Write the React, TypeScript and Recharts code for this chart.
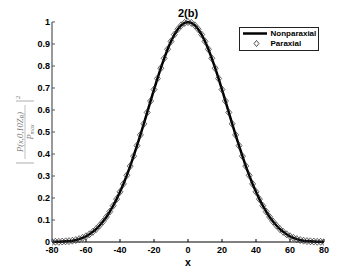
import React from 'react';
import { LineChart, Line, XAxis, YAxis, Legend, Label } from 'recharts';

const xValues = [
  -80, -78, -76, -74, -72, -70, -68, -66, -64, -62, -60, -58, -56, -54, -52, -50, -48, -46, -44, -42,
  -40, -38, -36, -34, -32, -30, -28, -26, -24, -22, -20, -18, -16, -14, -12, -10, -8, -6, -4, -2,
  0,
  2, 4, 6, 8, 10, 12, 14, 16, 18, 20, 22, 24, 26, 28, 30, 32, 34, 36, 38, 40,
  42, 44, 46, 48, 50, 52, 54, 56, 58, 60, 62, 64, 66, 68, 70, 72, 74, 76, 78, 80,
];

const nonparaxial = [
  0.0, 0.001, 0.001, 0.002, 0.003, 0.004, 0.006, 0.009, 0.013, 0.019, 0.026, 0.035, 0.046, 0.059, 0.075, 0.093, 0.114, 0.138, 0.165, 0.195,
  0.228, 0.264, 0.303, 0.345, 0.39, 0.438, 0.487, 0.537, 0.589, 0.641, 0.693, 0.743, 0.79, 0.835, 0.876, 0.912, 0.943, 0.967, 0.985, 0.996,
  1.0,
  0.996, 0.985, 0.967, 0.943, 0.912, 0.876, 0.835, 0.79, 0.743, 0.693, 0.641, 0.589, 0.537, 0.487, 0.438, 0.39, 0.345, 0.303, 0.264, 0.228,
  0.195, 0.165, 0.138, 0.114, 0.093, 0.075, 0.059, 0.046, 0.035, 0.026, 0.019, 0.013, 0.009, 0.006, 0.004, 0.003, 0.002, 0.001, 0.001, 0.0,
];

const paraxial = [
  0.0, 0.001, 0.001, 0.002, 0.003, 0.004, 0.006, 0.009, 0.013, 0.019, 0.026, 0.035, 0.046, 0.059, 0.075, 0.093, 0.114, 0.138, 0.165, 0.195,
  0.228, 0.264, 0.303, 0.345, 0.39, 0.438, 0.487, 0.537, 0.589, 0.641, 0.693, 0.743, 0.79, 0.835, 0.876, 0.912, 0.943, 0.967, 0.985, 0.996,
  1.0,
  0.996, 0.985, 0.967, 0.943, 0.912, 0.876, 0.835, 0.79, 0.743, 0.693, 0.641, 0.589, 0.537, 0.487, 0.438, 0.39, 0.345, 0.303, 0.264, 0.228,
  0.195, 0.165, 0.138, 0.114, 0.093, 0.075, 0.059, 0.046, 0.035, 0.026, 0.019, 0.013, 0.009, 0.006, 0.004, 0.003, 0.002, 0.001, 0.001, 0.0,
];

const xTicks = [-80, -60, -40, -20, 0, 20, 40, 60, 80];
const yTicks = [0, 0.1, 0.2, 0.3, 0.4, 0.5, 0.6, 0.7, 0.8, 0.9, 1];
const yTickLabels = ['0', '0.1', '0.2', '0.3', '0.4', '0.5', '0.6', '0.7', '0.8', '0.9', '1'];
const seriesNames = ['Nonparaxial', 'Paraxial'];
const titleText = '2(b)';
const xLabelText = 'x';

const data = xValues.map((x, i) => ({ x, nonparaxial: nonparaxial[i], paraxial: paraxial[i] }));

const FONT = '"Liberation Sans", Arial, Helvetica, sans-serif';
const SERIF = '"Liberation Serif", "DejaVu Serif", serif';

const Diamond = (props: any) => {
  const { cx, cy, index } = props;
  if (cx == null || cy == null) return null;
  return (
    <path
      key={`d-${index}`}
      d={`M${cx},${cy - 3.5}L${cx + 3},${cy}L${cx},${cy + 3.5}L${cx - 3},${cy}Z`}
      fill="none"
      stroke="#333"
      strokeWidth={0.75}
    />
  );
};

const YLabelContent = (props: any) => {
  const vb = props.viewBox || { x: 0, y: 22, width: 52, height: 220 };
  const cx = vb.x + 25;
  const cy = vb.y + vb.height / 2;
  return (
    <g transform={`translate(${cx},${cy}) rotate(-90)`} fill="#777" fontFamily={SERIF} fontStyle="italic">
      <line x1={-31} y1={-9} x2={-31} y2={9} stroke="#999" strokeWidth={0.8} />
      <text x={0} y={-2.5} fontSize={8.5} textAnchor="middle">
        P(x,0,10Z<tspan fontSize={6} dy={1.5}>R</tspan>
        <tspan dy={-1.5}>)</tspan>
      </text>
      <line x1={-27} y1={0} x2={27} y2={0} stroke="#999" strokeWidth={0.6} />
      <text x={0} y={7.5} fontSize={8.5} textAnchor="middle">
        P<tspan fontSize={6} dy={1.5}>max</tspan>
      </text>
      <line x1={31} y1={-9} x2={31} y2={9} stroke="#999" strokeWidth={0.8} />
      <text x={33} y={-5} fontSize={6.5} fontStyle="normal">2</text>
    </g>
  );
};

const LegendContent = () => (
  <div
    style={{
      width: 80,
      height: 24,
      border: '1px solid #222',
      background: '#fff',
      boxSizing: 'border-box',
    }}
  >
    <svg width={78} height={22} style={{ display: 'block' }}>
      <line x1={3} y1={5.5} x2={27} y2={5.5} stroke="#000" strokeWidth={2.5} />
      <text x={30.5} y={5.5} dy="0.35em" fontSize={8} fontWeight="bold" fontFamily={FONT} fill="#000">
        {seriesNames[0]}
      </text>
      <path d="M16.5,12.5L19,15.5L16.5,18.5L14,15.5Z" fill="none" stroke="#222" strokeWidth={0.8} />
      <text x={30.5} y={15.5} dy="0.35em" fontSize={8} fontWeight="bold" fontFamily={FONT} fill="#000">
        {seriesNames[1]}
      </text>
    </svg>
  </div>
);

export default function App() {
  return (
    <div style={{ position: 'absolute', left: 0, top: 0, width: 359, height: 273, background: '#fff' }}>
      <LineChart width={359} height={273} data={data} margin={{ top: 22, right: 35, bottom: 0, left: 0 }}>
        <text x={188} y={17} textAnchor="middle" fontSize={11} fontWeight="bold" fontFamily={FONT} fill="#000">
          {titleText}
        </text>
        <XAxis
          xAxisId="b"
          dataKey="x"
          type="number"
          domain={[-80, 80]}
          ticks={xTicks}
          interval={0}
          height={31}
          tickSize={-3}
          tickMargin={8}
          axisLine={{ stroke: '#000', strokeWidth: 1 }}
          tickLine={{ stroke: '#000' }}
          tick={{ fontSize: 9, fontWeight: 'bold', fill: '#000', fontFamily: FONT }}
          allowDataOverflow
        >
          <Label
            value={xLabelText}
            position="insideBottom"
            offset={7}
            style={{ fontSize: 10.5, fontWeight: 'bold', fill: '#000', fontFamily: FONT }}
          />
        </XAxis>
        <XAxis
          xAxisId="t"
          orientation="top"
          type="number"
          domain={[-80, 80]}
          ticks={xTicks}
          interval={0}
          height={0}
          tickSize={-3}
          tick={false}
          axisLine={{ stroke: '#000', strokeWidth: 1 }}
          tickLine={{ stroke: '#000' }}
        />
        <YAxis
          yAxisId="l"
          type="number"
          domain={[0, 1]}
          ticks={yTicks}
          interval={0}
          width={52}
          tickSize={-3}
          tickMargin={5}
          tickFormatter={(v: number) => yTickLabels[yTicks.indexOf(v)] ?? String(v)}
          axisLine={{ stroke: '#777', strokeWidth: 1.5 }}
          tickLine={{ stroke: '#555' }}
          tick={{ fontSize: 9, fontWeight: 'bold', fill: '#000', fontFamily: FONT }}
        >
          <Label content={<YLabelContent />} />
        </YAxis>
        <YAxis
          yAxisId="r"
          orientation="right"
          type="number"
          domain={[0, 1]}
          ticks={yTicks}
          interval={0}
          width={0}
          tickSize={-3}
          tick={false}
          axisLine={{ stroke: '#444', strokeWidth: 1 }}
          tickLine={{ stroke: '#444' }}
        />
        <Legend
          layout="horizontal"
          verticalAlign="middle"
          align="center"
          content={<LegendContent />}
          wrapperStyle={{ position: 'absolute', left: 239, top: 27, width: 80, height: 24, margin: 0 }}
        />
        <Line
          xAxisId="b"
          yAxisId="l"
          type="linear"
          dataKey="nonparaxial"
          name={seriesNames[0]}
          stroke="#000"
          strokeWidth={2.5}
          dot={false}
          activeDot={false}
          isAnimationActive={false}
        />
        <Line
          xAxisId="b"
          yAxisId="l"
          type="linear"
          dataKey="paraxial"
          name={seriesNames[1]}
          stroke="none"
          dot={(p: any) => <Diamond {...p} key={`dm-${p.index}`} />}
          activeDot={false}
          isAnimationActive={false}
        />
      </LineChart>
    </div>
  );
}
